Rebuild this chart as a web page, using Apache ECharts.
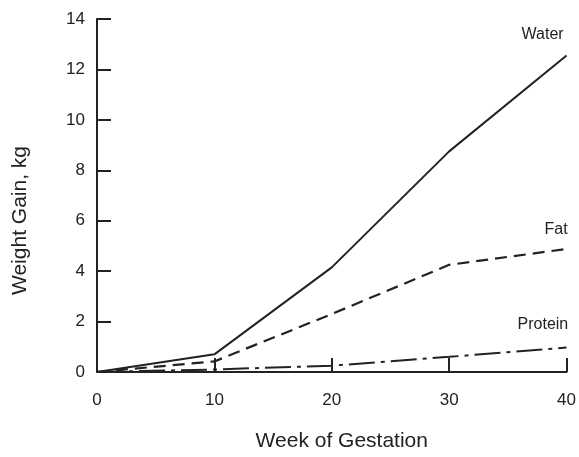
<!DOCTYPE html>
<html>
<head>
<meta charset="utf-8">
<script src="https://cdn.jsdelivr.net/npm/echarts@6/dist/echarts.min.js"></script>
<style>
  html, body { margin: 0; padding: 0; background: #fff; }
  #chart { width: 579px; height: 457px; }
</style>
</head>
<body>
<div id="chart"></div>
<script>
// Weight gain components over the weeks of gestation
const weeks = [0, 10, 20, 30, 40];
const water = [0, 0.7, 4.15, 8.75, 12.55];
const fat = [0, 0.42, 2.3, 4.25, 4.88];
const protein = [0, 0.1, 0.25, 0.6, 0.97];
const yTicks = [0, 2, 4, 6, 8, 10, 12, 14];

const ink = '#222';
const font = '"Liberation Sans", Arial, sans-serif';

function pairs(vals) { return weeks.map((w, i) => [w, vals[i]]); }

function endLabel(text, dx, dy) {
  return {
    show: true,
    formatter: text,
    color: ink,
    fontFamily: font,
    fontSize: 16,
    offset: [dx, dy]
  };
}

const chart = echarts.init(document.getElementById('chart'));
chart.setOption({
  animation: false,
  grid: { left: 97, right: 11, top: 19, bottom: 85 },
  xAxis: {
    type: 'value', min: 0, max: 40, interval: 10,
    name: 'Week of Gestation', nameLocation: 'middle', nameGap: 59,
    nameTextStyle: { color: ink, fontFamily: font, fontSize: 21, padding: [0, 0, 0, 20] },
    axisLine: { lineStyle: { color: ink, width: 2 } },
    axisTick: { inside: true, length: 14, lineStyle: { color: ink, width: 2 } },
    axisLabel: { color: ink, fontFamily: font, fontSize: 17, margin: 20 },
    splitLine: { show: false }
  },
  yAxis: {
    type: 'value', min: 0, max: 14, interval: 2,
    name: 'Weight Gain, kg', nameLocation: 'middle', nameGap: 66,
    nameTextStyle: { color: ink, fontFamily: font, fontSize: 21, padding: [0, 50, 0, 0] },
    axisLine: { show: true, lineStyle: { color: ink, width: 2 } },
    axisTick: { show: true, inside: true, length: 14, lineStyle: { color: ink, width: 2 } },
    axisLabel: {
      color: ink, fontFamily: font, fontSize: 17, margin: 12,
      formatter: v => (yTicks.includes(v) ? String(v) : '')
    },
    splitLine: { show: false }
  },
  series: [
    {
      name: 'Water', type: 'line', data: pairs(water), symbol: 'none',
      lineStyle: { color: ink, width: 2 },
      endLabel: endLabel('Water', -53, -21)
    },
    {
      name: 'Fat', type: 'line', data: pairs(fat), symbol: 'none',
      lineStyle: { color: ink, width: 2.2, type: [12, 7] },
      endLabel: endLabel('Fat', -30, -19)
    },
    {
      name: 'Protein', type: 'line', data: pairs(protein), symbol: 'none',
      lineStyle: { color: ink, width: 2, type: [26, 6, 4, 6] },
      endLabel: endLabel('Protein', -57, -23)
    }
  ]
});
</script>
</body>
</html>
